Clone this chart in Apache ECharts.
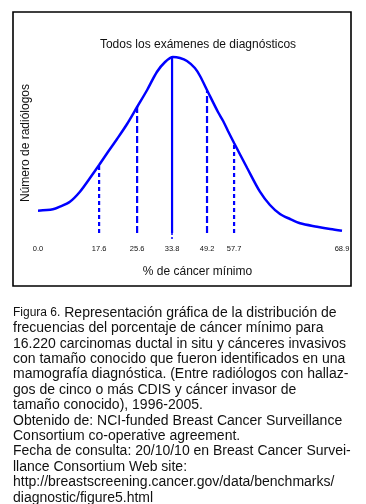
<!DOCTYPE html>
<html>
<head>
<meta charset="utf-8">
<script src="https://cdn.jsdelivr.net/npm/echarts@6/dist/echarts.min.js"></script>
<style>
html,body{margin:0;padding:0;background:#fff;}
#chart{width:366px;height:504px;}
</style>
</head>
<body>
<div id="chart"></div>
<script>
// x: position along the (non-linear) % axis, 0 = "0.0" tick, 100 = "68.9" tick
const curveX = [0, 4.9, 7.2, 10.5, 13.8, 17.1, 20.1, 23.0, 26.0, 29.3, 32.6, 35.9, 39.1, 41.8, 44.4, 46.7, 49.0, 51.6, 53.3, 55.9, 59.2, 60.9, 62.5, 64.5, 68.8, 73.0, 76.3, 79.6, 82.9, 86.2, 91.8, 96.1, 100];
// y: relative number of radiologists
const curveY = [22.3, 23.7, 26.3, 31.3, 41.3, 55, 68, 81, 94, 109, 126, 143, 161, 171, 176, 175, 172, 165, 157, 141, 121, 112, 102, 90, 65, 41.3, 28, 19, 14, 9.7, 6.3, 4, 2.3];

const tickLabels = ['0.0', '17.6', '25.6', '33.8', '49.2', '57.7', '68.9'];
const tickPos = [0, 20.1, 32.6, 44.1, 55.6, 64.5, 100];

// percentile markers
const markPos = [20.1, 32.6, 44.1, 55.6, 64.5];
const markTop = [68, 127, 176, 142, 90];
const markKind = ['dotted', 'dashed', 'solid', 'dashed', 'dotted'];

const captionLines = [
  'Representación gráfica de la distribución de',
  'frecuencias del porcentaje de cáncer mínimo para',
  '16.220 carcinomas ductal in situ y cánceres invasivos',
  'con tamaño conocido que fueron identificados en una',
  'mamografía diagnóstica. (Entre radiólogos con hallaz-',
  'gos de cinco o más CDIS y cáncer invasor de',
  'tamaño conocido), 1996-2005.',
  'Obtenido de: NCI-funded Breast Cancer Surveillance',
  'Consortium co-operative agreement.',
  'Fecha de consulta: 20/10/10 en Breast Cancer Survei-',
  'llance Consortium Web site:',
  'http://breastscreening.cancer.gov/data/benchmarks/',
  'diagnostic/figure5.html'
];

const BLUE = '#0000ff';
const FONT = 'Arial, "Liberation Sans", sans-serif';

const chart = echarts.init(document.getElementById('chart'), null, {renderer: 'canvas'});

const dashFor = {dotted: [4, 3], dashed: [7, 3], solid: 'solid'};
const markSeries = markPos.map((x, i) => ({
  type: 'line',
  data: [[x, 0], [x, markTop[i]]],
  symbol: 'none',
  silent: true,
  lineStyle: {color: BLUE, width: 2.2, type: dashFor[markKind[i]]},
  z: 2
}));

const captionGraphics = captionLines.map((t, i) => ({
  type: 'text',
  left: 13,
  top: 306 + i * 15.4,
  style: {
    text: i === 0 ? '{s|Figura 6.} ' + t : t,
    font: '14px ' + FONT,
    fill: '#111',
    rich: {s: {fontSize: 12, fontFamily: FONT, fill: '#111'}}
  }
}));

chart.setOption({
  animation: false,
  backgroundColor: '#fff',
  title: {
    text: 'Todos los exámenes de diagnósticos',
    left: 193,
    top: 34,
    textAlign: 'center',
    textStyle: {fontSize: 12, fontWeight: 'normal', color: '#111', fontFamily: FONT}
  },
  grid: {left: 38, right: 24, top: 53, bottom: 271, containLabel: false},
  xAxis: {
    type: 'value',
    min: 0,
    max: 100,
    name: '% de cáncer mínimo',
    nameLocation: 'middle',
    nameGap: 33,
    nameTextStyle: {fontSize: 12, color: '#111', fontFamily: FONT, padding: [0, 0, 0, 15]},
    axisLine: {show: false},
    splitLine: {show: false},
    axisTick: {show: true, customValues: [44.1], length: 7, lineStyle: {color: BLUE, width: 1.5, type: [2, 2]}},
    axisLabel: {
      customValues: tickPos,
      margin: 12,
      fontSize: 7.5,
      color: '#111',
      fontFamily: FONT,
      formatter: v => {
        const k = tickPos.indexOf(v);
        return k >= 0 ? tickLabels[k] : '';
      }
    }
  },
  yAxis: {
    type: 'value',
    min: 0,
    max: 180,
    name: 'Número de radiólogos',
    nameLocation: 'middle',
    nameGap: 6,
    nameTextStyle: {fontSize: 12, color: '#111', fontFamily: FONT},
    axisLine: {show: false},
    axisTick: {show: false},
    axisLabel: {show: false},
    splitLine: {show: false}
  },
  series: [{
    type: 'line',
    data: curveX.map((x, i) => [x, curveY[i]]),
    smooth: 0.3,
    symbol: 'none',
    silent: true,
    lineStyle: {color: BLUE, width: 2.5},
    z: 3
  }].concat(markSeries),
  graphic: [{
    type: 'rect',
    shape: {x: 13, y: 12, width: 338, height: 274},
    style: {fill: 'none', stroke: '#000', lineWidth: 1.6},
    silent: true
  }].concat(captionGraphics)
});
</script>
</body>
</html>
